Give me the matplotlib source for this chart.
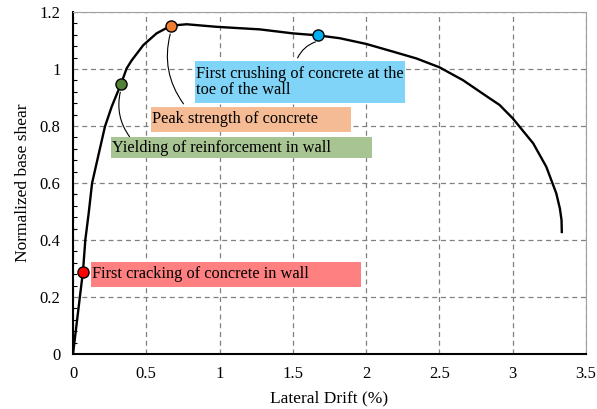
import matplotlib.pyplot as plt
from matplotlib.patches import Rectangle
import numpy as np

plt.rcParams['font.family'] = ['Liberation Serif', 'DejaVu Serif']

# pushover curve
drift = [0.0, 0.048, 0.068, 0.084, 0.107, 0.13, 0.17, 0.218, 0.264, 0.327,
         0.366, 0.40, 0.48, 0.57, 0.668, 0.775, 0.98, 1.275, 1.50, 1.672, 1.82,
         2.0, 2.183, 2.343, 2.50, 2.66, 2.843, 2.91, 3.0, 3.14, 3.229, 3.297,
         3.322, 3.333, 3.335]
shear = [0.0, 0.205, 0.289, 0.40, 0.494, 0.599, 0.69, 0.798, 0.868, 0.947,
         1.002, 1.03, 1.084, 1.125, 1.152, 1.157, 1.148, 1.139, 1.125, 1.118, 1.108,
         1.088, 1.061, 1.037, 1.006, 0.961, 0.897, 0.874, 0.827, 0.739, 0.657, 0.564,
         0.51, 0.47, 0.428]

# damage states
ev_x = [0.068, 0.327, 0.668, 1.672]
ev_y = [0.289, 0.948, 1.152, 1.118]
ev_labels = ['First cracking of concrete in wall',
             'Yielding of reinforcement in wall',
             'Peak strength of concrete',
             'First crushing of concrete at the\ntoe of the wall']
ev_colors = ['#ff0000', '#548235', '#ed7d31', '#00b0f0']
box_colors = ['#ff8080', '#a9c493', '#f5bb94', '#80d4f7']

fig = plt.figure(figsize=(5.97, 4.09), dpi=100)
ax = fig.add_axes([73 / 597, 1 - 354 / 409, 513 / 597, 342 / 409])

# label boxes (x0, x1, y0, y1) in data units
boxes = [(0.123, 1.963, 0.236, 0.322),
         (0.259, 2.043, 0.687, 0.760),
         (0.532, 1.894, 0.780, 0.867),
         (0.832, 2.268, 0.882, 1.028)]
for (x0, x1, y0, y1), c, lab in zip(boxes, box_colors, ev_labels):
    ax.add_patch(Rectangle((x0, y0), x1 - x0, y1 - y0, facecolor=c,
                           edgecolor='none', zorder=2))
    ax.text(x0 + 0.005, (y0 + y1) / 2, lab, fontsize=11.8, va='center',
            ha='left', zorder=3, linespacing=1.0)

# leader lines
leaders = [(1, 0.397, 0.755), (2, 0.765, 0.87), (3, 1.525, 1.03)]
for i, tx, ty in leaders:
    ax.annotate('', xy=(ev_x[i], ev_y[i] - 0.02), xytext=(tx, ty),
                arrowprops=dict(arrowstyle='-', color='black', lw=0.8,
                                connectionstyle='arc3,rad=-0.25'), zorder=3)

ax.plot(drift, shear, color='black', lw=1.7, zorder=4)
for x, y, c in zip(ev_x, ev_y, ev_colors):
    ax.plot(x, y, 'o', ms=8, mfc=c, mec='black', mew=1, zorder=5)

ax.set_xlim(0, 3.5)
ax.set_ylim(0, 1.2)
ax.set_xticks(np.arange(0, 3.51, 0.5))
ax.set_xticklabels(['0', '0.5', '1', '1.5', '2', '2.5', '3', '3.5'])
ax.set_yticks(np.arange(0, 1.21, 0.2))
ax.set_yticklabels(['0', '0.2', '0.4', '0.6', '0.8', '1', '1.2'])
ax.set_yticks(np.arange(0, 1.21, 0.04), minor=True)
ax.tick_params(axis='both', labelsize=12, length=0, pad=9)
ax.tick_params(axis='y', which='minor', direction='in', length=3, width=0.8)
ax.grid(True, color='#808080', ls=(0, (4, 3)), lw=0.9)
ax.set_axisbelow(True)

for s in ['top', 'right']:
    ax.spines[s].set_color('#a0a0a0')
    ax.spines[s].set_linewidth(0.8)
for s in ['left', 'bottom']:
    ax.spines[s].set_color('black')
    ax.spines[s].set_linewidth(1.5)

ax.set_xlabel('Lateral Drift (%)', fontsize=12.5, labelpad=6)
ax.set_ylabel('Normalized base shear', fontsize=12.5, labelpad=6)

fig.savefig('out.png', dpi=100)
plt.close()
